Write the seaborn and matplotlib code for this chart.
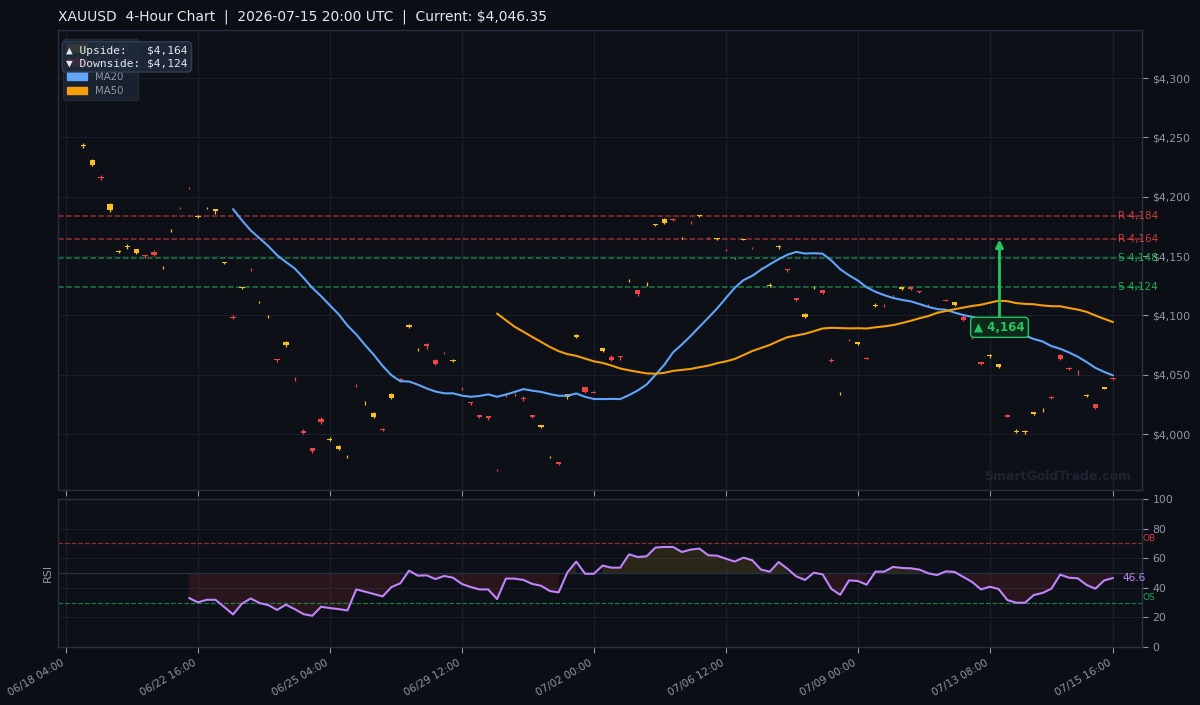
import numpy as np
import pandas as pd
import matplotlib
matplotlib.use("Agg")
import matplotlib.pyplot as plt
import matplotlib.transforms as mtransforms
from matplotlib.patches import Patch
import seaborn as sns

# 4h candles, index based (weekends skipped)
opens = [4311, 4309.5, 4242.8, 4227, 4216.6, 4189, 4153.8, 4157.6, 4152.8, 4151,
         4153.4, 4140.3, 4171.5, 4190.55, 4207.45, 4183.2, 4190.5, 4188, 4144.5, 4098.9,
         4123.4, 4138.85, 4111.3, 4099, 4063.4, 4075, 4046.7, 4003, 3988.7, 4013.1,
         3995.4, 3987.4, 3981.2, 4041.25, 4027.5, 4014.3, 4004.6, 4030.6, 4046.1, 4090.3,
         4071.5, 4076.3, 4062.8, 4068.55, 4061.9, 4039.9, 4027.2, 4016.2, 4015.4, 3970.05,
         4033.15, 4033.65, 4030.4, 4016.2, 4006.1, 3980.8, 3976.7, 4031.1, 4081.9, 4039.3,
         4035.8, 4070.4, 4065.1, 4066, 4129.6, 4121.5, 4126.5, 4176.5, 4177.9, 4181.4,
         4165.3, 4178.45, 4183.7, 4165.3, 4164.4, 4155.3, 4147.8, 4163.8, 4156.8, 4139.65,
         4125, 4157.3, 4138.9, 4114.7, 4098.7, 4123.6, 4121.5, 4062.4, 4034.3, 4079.55,
         4076, 4064.4, 4108.2, 4108.55, 4116.7, 4122.3, 4124, 4120.7, 4109.2, 4102.6,
         4113.2, 4109.1, 4099, 4084, 4060.9, 4065.5, 4056.7, 4016.5, 4002.2, 4001.4,
         4017.1, 4021.8, 4031.5, 4066.8, 4055.6, 4052.15, 4031.8, 4025, 4038.3, 4047.4]
highs = [4313.5, 4311, 4245.5, 4232, 4218.5, 4194.5, 4155.3, 4160, 4156.3, 4151,
         4155, 4141.7, 4172.8, 4191.3, 4208.2, 4184.8, 4191.3, 4189.6, 4145.1, 4100,
         4124, 4140.2, 4112.2, 4100.4, 4063.4, 4078.6, 4048.2, 4004.5, 3988.7, 4014.8,
         3997.5, 3990.5, 3982.8, 4042.3, 4028.1, 4018.3, 4005.5, 4034.5, 4047, 4093.2,
         4072.7, 4077, 4063.6, 4069.5, 4063.6, 4039.9, 4027.2, 4016.2, 4015.4, 3970.8,
         4034.5, 4035, 4031.8, 4016.2, 4007.8, 3981.7, 3976.7, 4033.9, 4084.6, 4040,
         4036.6, 4072.6, 4066.3, 4066, 4130.7, 4121.5, 4128.2, 4177.1, 4182.3, 4182.3,
         4165.8, 4179.5, 4184.3, 4166.1, 4165, 4156, 4148.4, 4164.4, 4157.6, 4140.6,
         4127, 4159.7, 4138.9, 4114.7, 4102.3, 4124.6, 4121.5, 4064.3, 4035.6, 4080.2,
         4077.7, 4065, 4110.2, 4109.7, 4117.5, 4124, 4124, 4120.7, 4110, 4104,
         4113.5, 4111.4, 4100, 4084, 4060.9, 4067.5, 4058.9, 4016.8, 4004.2, 4003.3,
         4018.8, 4022.4, 4032.3, 4067.6, 4056.6, 4054.1, 4033.5, 4025.8, 4040, 4048]
lows = [4309.5, 4307.5, 4241.5, 4226, 4214, 4187, 4153, 4156, 4151.5, 4148,
        4150, 4139, 4170.3, 4189.7, 4206.6, 4182.3, 4189.7, 4185.4, 4143.4, 4097,
        4122, 4137.5, 4110.5, 4097.9, 4061, 4073.5, 4045.1, 4000, 3984.4, 4008.6,
        3994.3, 3986.8, 3980.2, 4040.1, 4024.7, 4013.2, 4002.8, 4029.5, 4044.3, 4089.4,
        4070.2, 4072, 4058.4, 4067.6, 4061, 4037.3, 4024.7, 4013.7, 4012, 3969.1,
        4031.7, 4032.2, 4028.3, 4013.7, 4005.3, 3980, 3974.2, 4029.9, 4081, 4034.7,
        4034.3, 4069.3, 4061.4, 4062.6, 4128.5, 4116.5, 4124.9, 4175.4, 4177, 4179.7,
        4164.6, 4177.3, 4182.6, 4164.4, 4163.5, 4154.5, 4147.3, 4163.2, 4155.9, 4139,
        4124, 4155.7, 4136.9, 4112.2, 4097.7, 4122.6, 4118.3, 4060.4, 4033.1, 4078.8,
        4075.2, 4063, 4107.2, 4107.4, 4116, 4121.4, 4121.4, 4119.2, 4107.5, 4101.8,
        4111.8, 4108, 4095.3, 4080, 4058.5, 4064.2, 4055.9, 4014.3, 4000.6, 4000,
        4016.4, 4019, 4030, 4062.5, 4053.8, 4050.2, 4031, 4021.2, 4038, 4045.8]
closes = [4312, 4309, 4243.6, 4231, 4215.8, 4194, 4154.4, 4158.4, 4156, 4150.4,
          4150.8, 4140.3, 4171.5, 4190.5, 4207.4, 4183.8, 4190.5, 4189.6, 4145.1, 4098.1,
          4124, 4138.8, 4111.3, 4099, 4062.8, 4077.7, 4046.65, 4001, 3986, 4010.3,
          3996.2, 3989.6, 3981.8, 4041.2, 4028.1, 4017.7, 4003.8, 4033.4, 4045.3, 4092.3,
          4071.5, 4074.3, 4059.4, 4068.5, 4062.7, 4039.3, 4026.6, 4014.6, 4013.7, 3970,
          4033.1, 4033.6, 4029.6, 4014.6, 4007.8, 3980.8, 3975, 4033.9, 4083.8, 4035.9,
          4035, 4072.6, 4062.5, 4065.4, 4129.6, 4118.4, 4126.5, 4177.1, 4181.6, 4180.6,
          4165.3, 4178.4, 4184.3, 4165.25, 4165, 4155.25, 4147.8, 4164.4, 4156.75, 4139.6,
          4125.8, 4158.1, 4138.3, 4113, 4101.5, 4123.6, 4119.2, 4061.6, 4034.3, 4079.5,
          4077.7, 4063.6, 4109, 4108.5, 4116.7, 4124, 4122.3, 4120.1, 4108.4, 4103.2,
          4112.4, 4111.4, 4096.2, 4083.2, 4059.4, 4066.3, 4058.9, 4014.6, 4002.8, 4002.8,
          4018.8, 4022.4, 4030.7, 4063.4, 4054.8, 4052.1, 4032.7, 4022.1, 4039.6, 4046.35]

# RSI(14), first value at candle 14
rsi_values = [33.1, 30.1, 31.9, 31.9, 27, 22, 29.2, 32.8, 29.7, 28.3,
              25, 28.6, 25.6, 22.2, 21.1, 27.2, 26.3, 25.6, 24.7, 38.9,
              37.4, 35.8, 34.2, 40.5, 43, 51.6, 48.2, 48.4, 45.9, 48,
              46.8, 42.6, 40.5, 38.9, 38.9, 32.4, 46.2, 46.2, 45.3, 42.6,
              41.4, 37.8, 36.9, 50.5, 57.7, 49.5, 49.5, 55, 53.6, 53.6,
              62.6, 60.8, 61.3, 67.2, 67.6, 67.6, 64.2, 65.8, 66.5, 62,
              61.7, 59.7, 57.7, 60.4, 58.6, 52.3, 50.9, 57.4, 52.9, 47.7,
              45.3, 50.2, 49.1, 39.2, 35.3, 45, 44.6, 42.1, 50.9, 50.9,
              54.1, 53.4, 53.2, 52.3, 49.8, 48.6, 51.1, 50.7, 47.3, 43.9,
              38.9, 40.7, 39.2, 31.7, 29.9, 29.9, 35.1, 36.5, 39.4, 48.9,
              46.8, 46.4, 41.9, 39.4, 45, 46.6]

tick_pos = [0, 15, 30, 45, 60, 75, 90, 105, 119]
tick_labels = ["06/18 04:00", "06/22 16:00", "06/25 04:00", "06/29 12:00", "07/02 00:00",
               "07/06 12:00", "07/09 00:00", "07/13 08:00", "07/15 16:00"]

resistance = [4184, 4164]
support = [4148, 4124]
target = 4164

# colours
BG = '#0b0e15'
PANEL = '#0d1017'
GRID = '#1a1f2a'
SPINE = '#273040'
TXT = '#8f98a8'
BULL = '#fbbf24'
BEAR = '#ef4444'
GREEN = '#22c55e'
MA20_C = '#60a5fa'
MA50_C = '#f59e0b'
RSI_C = '#c084fc'

sns.set_theme(style="dark", rc={'axes.facecolor': PANEL, 'figure.facecolor': BG,
                                'axes.edgecolor': SPINE, 'grid.color': GRID})
plt.rcParams['font.family'] = ['DejaVu Sans']

df = pd.DataFrame({'open': opens, 'high': highs, 'low': lows, 'close': closes})
df['i'] = np.arange(len(df))
df['ma20'] = df['close'].rolling(20).mean()
df['ma50'] = df['close'].rolling(50).mean()
rsi_df = pd.DataFrame({'i': np.arange(14, 14 + len(rsi_values)), 'rsi': rsi_values})

fig = plt.figure(figsize=(12, 7.05), dpi=100)
gs = fig.add_gridspec(2, 1, height_ratios=[460, 148], hspace=0.03,
                      left=0.0483, right=0.9517, top=0.9574, bottom=0.0823)
ax = fig.add_subplot(gs[0])
rax = fig.add_subplot(gs[1], sharex=ax)

# candles
bull = df['close'] >= df['open']
cols = np.where(bull, BULL, BEAR)
ax.vlines(df['i'], df['low'], df['high'], colors=cols, linewidth=0.9, zorder=2)
ax.bar(df['i'], (df['close'] - df['open']).abs(), bottom=df[['open', 'close']].min(axis=1),
       width=0.6, color=cols, linewidth=0, zorder=3)

# moving averages
sns.lineplot(data=df, x='i', y='ma20', ax=ax, color=MA20_C, linewidth=1.5, zorder=4)
sns.lineplot(data=df, x='i', y='ma50', ax=ax, color=MA50_C, linewidth=1.5, zorder=4)

# levels
for lv in resistance:
    ax.axhline(lv, color=BEAR, linestyle='--', linewidth=1.1, alpha=0.6, zorder=1)
    ax.text(119.6, lv, f"R {lv:,}", color=BEAR, fontsize=7.5, va='center', ha='left',
            alpha=0.85, clip_on=False, zorder=6)
for lv in support:
    ax.axhline(lv, color=GREEN, linestyle='--', linewidth=1.1, alpha=0.6, zorder=1)
    ax.text(119.6, lv, f"S {lv:,}", color=GREEN, fontsize=7.5, va='center', ha='left',
            alpha=0.85, clip_on=False, zorder=6)

# target arrow
ax.annotate(f"▲ {target:,}", xy=(106.1, target), xytext=(106.1, 4090),
            color=GREEN, fontsize=8.5, fontweight='bold', ha='center', va='center',
            bbox=dict(boxstyle='round,pad=0.3', facecolor='#0f2a1b', edgecolor=GREEN, lw=1),
            arrowprops=dict(arrowstyle='-|>', color=GREEN, lw=2, mutation_scale=11,
                            shrinkA=0, shrinkB=0), zorder=7)

ax.text(0.99, 0.03, "SmartGoldTrade.com", transform=ax.transAxes, ha='right', va='center',
        color='#1d2431', fontsize=9, fontweight='bold', zorder=1)

ax.set_xlim(-0.9, 122.3)
ax.set_ylim(3953, 4340.5)
ax.set_yticks([4000, 4050, 4100, 4150, 4200, 4250, 4300])
ax.set_yticklabels([f"${v:,}" for v in [4000, 4050, 4100, 4150, 4200, 4250, 4300]])
ax.yaxis.tick_right()
ax.tick_params(axis='y', colors=TXT, labelsize=7.8, length=4, width=0.8, right=True, left=False)
ax.tick_params(axis='x', labelbottom=False, bottom=True, length=4, width=0.8, color=TXT)
ax.grid(True, color=GRID, linewidth=0.8)
ax.set_xlabel('')
ax.set_ylabel('')

handles = [Patch(color=BULL, label='Bullish'), Patch(color=BEAR, label='Bearish'),
           Patch(color=MA20_C, label='MA20'), Patch(color=MA50_C, label='MA50')]
leg = ax.legend(handles=handles, loc='upper left', fontsize=7.3, frameon=True,
                facecolor='#1a2231', edgecolor='#232c3b', framealpha=0.95,
                labelcolor=TXT, handlelength=2.0, handleheight=0.8, labelspacing=0.42,
                bbox_to_anchor=(0.0, 0.991))

ax.text(0.0075, 0.966, "▲ Upside:   $4,164\n▼ Downside: $4,124", transform=ax.transAxes,
        ha='left', va='top', color='#e5e7eb', fontsize=8.1, family='DejaVu Sans Mono',
        linespacing=1.3, zorder=10,
        bbox=dict(boxstyle='round,pad=0.35', facecolor='#1e293b', edgecolor='#334155',
                  alpha=0.9, lw=1))

# RSI panel
r = np.array(rsi_values)
rax.fill_between(rsi_df['i'], r, 50, where=r < 50, color=BEAR, alpha=0.12, linewidth=0)
rax.fill_between(rsi_df['i'], r, 50, where=r >= 50, color=BULL, alpha=0.12, linewidth=0)
sns.lineplot(data=rsi_df, x='i', y='rsi', ax=rax, color=RSI_C, linewidth=1.5, zorder=4)
rax.axhline(70, color=BEAR, linestyle='--', linewidth=0.9, alpha=0.6)
rax.axhline(30, color=GREEN, linestyle='--', linewidth=0.9, alpha=0.6)
rax.axhline(50, color='#2a3140', linewidth=0.9)
tr = mtransforms.blended_transform_factory(rax.transAxes, rax.transData)
rax.text(1.0, 70.5, "OB", transform=tr, color=BEAR, fontsize=6.5, ha='left', va='bottom', alpha=0.85)
rax.text(1.0, 30.5, "OS", transform=tr, color=GREEN, fontsize=6.5, ha='left', va='bottom', alpha=0.85)
rax.text(120.1, rsi_values[-1], f"{rsi_values[-1]:.1f}", color=RSI_C, fontsize=7.5,
         ha='left', va='center')

rax.set_ylim(0, 100)
rax.set_yticks([0, 20, 40, 60, 80, 100])
rax.yaxis.tick_right()
rax.yaxis.set_label_position('left')
rax.set_ylabel('RSI', color=TXT, fontsize=8, labelpad=4)
rax.set_xlabel('')
rax.tick_params(axis='y', colors=TXT, labelsize=7.8, length=4, width=0.8, right=True, left=False)
rax.set_xticks(tick_pos)
rax.set_xticklabels(tick_labels, rotation=30, ha='right')
rax.tick_params(axis='x', colors=TXT, labelsize=7.5, length=4, width=0.8, bottom=True)
rax.grid(True, color=GRID, linewidth=0.8)

for a in (ax, rax):
    for s in a.spines.values():
        s.set_color(SPINE)
        s.set_linewidth(1)

fig.text(58 / 1200, 1 - 17 / 705,
         "XAUUSD  4-Hour Chart  |  2026-07-15 20:00 UTC  |  Current: $4,046.35",
         color='#e5e7eb', fontsize=10, ha='left', va='center')

fig.savefig("out.png", dpi=100, facecolor=BG)
